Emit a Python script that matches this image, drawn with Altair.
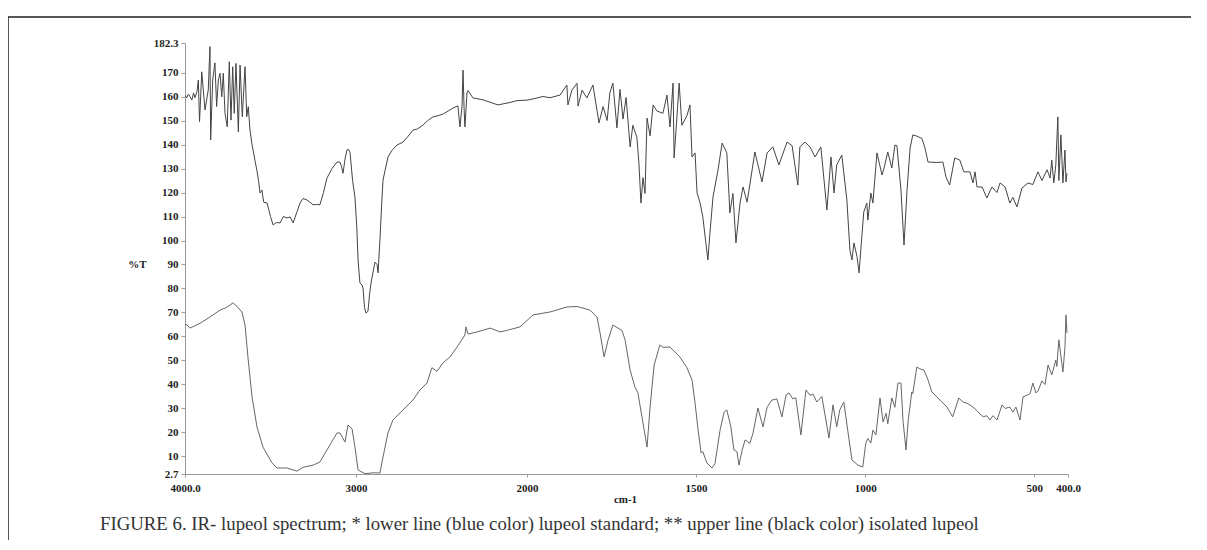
import altair as alt
import pandas as pd

# Upper line (isolated lupeol) : wavenumber (cm-1) and %T
upper_wn = [4000, 3990, 3980, 3971, 3960, 3950, 3942, 3930, 3922, 3915, 3902, 3883, 3864, 3854, 3850,
            3838, 3825, 3815, 3805, 3795, 3785, 3776, 3766, 3753, 3741, 3731, 3721, 3712, 3702, 3688,
            3678, 3665, 3649, 3639, 3630, 3620, 3608, 3602, 3590, 3579, 3570, 3561, 3550, 3540, 3520,
            3500, 3485, 3465, 3444, 3425, 3404, 3385, 3368, 3345, 3327, 3310, 3287, 3270, 3251, 3230,
            3211, 3190, 3170, 3140, 3111, 3094, 3085, 3076, 3064, 3053, 3045, 3035, 3020, 3006, 2995,
            2988, 2977, 2965, 2959, 2950, 2942, 2930, 2920, 2912, 2900, 2889, 2877, 2871, 2860, 2850,
            2842, 2813, 2790, 2760, 2725, 2700, 2667, 2640, 2608, 2580, 2550, 2520, 2491, 2460, 2433,
            2404, 2392, 2380, 2374, 2368, 2363, 2351, 2345, 2316, 2257, 2170, 2100, 2059, 2000, 1982,
            1953, 1932, 1902, 1882, 1879, 1867, 1852, 1849, 1837, 1823, 1805, 1787, 1775, 1763, 1755,
            1746, 1734, 1725, 1716, 1707, 1695, 1687, 1675, 1669, 1663, 1657, 1651, 1645, 1636, 1627,
            1616, 1598, 1586, 1577, 1568, 1565, 1556, 1550, 1542, 1527, 1518, 1512, 1503, 1497, 1488,
            1480, 1471, 1465, 1459, 1450, 1435, 1423, 1409, 1400, 1391, 1382, 1370, 1361, 1349, 1326,
            1305, 1290, 1273, 1255, 1231, 1216, 1199, 1193, 1178, 1163, 1148, 1131, 1113, 1101, 1092,
            1084, 1069, 1054, 1045, 1039, 1033, 1024, 1018, 1009, 1004, 995, 992, 983, 977, 965,
            950, 944, 933, 921, 912, 906, 894, 885, 876, 867, 859, 847, 832, 823, 814,
            788, 770, 761, 750, 735, 720, 708, 690, 681, 675, 669, 654, 640, 625, 610,
            601, 586, 572, 563, 551, 536, 518, 504, 489, 477, 462, 453, 448, 442, 436,
            430, 427, 421, 415, 409, 406, 403]
upper_t = [160.5, 159.5, 161, 160, 158.5, 161.5, 159.5, 162, 166.9, 149.5, 170.3, 154.4, 162.7, 180.8, 141.9,
           166.9, 174, 155.8, 166.9, 169.7, 159.9, 169.7, 153, 147.4, 174.5, 150.2, 172.4, 153, 173.8, 145.3,
           173.1, 151.6, 172.4, 151.6, 155.8, 146, 140, 137.7, 133, 129, 125, 119.8, 121, 116, 115.6,
           110, 106.5, 107.5, 107.3, 110, 109.4, 109.8, 107.3, 112, 115.6, 117.5, 116.9, 116, 114.9, 115,
           114.9, 120, 126, 130, 132.7, 132.7, 131, 128, 134, 137.7, 138, 136.8, 125, 118, 105,
           91.9, 82.3, 81.5, 80.2, 72, 69.8, 70.5, 78, 82.3, 87, 91, 90, 86.5, 100.2, 115,
           125.2, 134.8, 137.5, 139.8, 141, 143, 146, 146.5, 148.1, 150, 151.5, 152, 152.7, 154, 155.2,
           156.1, 147.3, 156, 171, 155, 147.3, 161.5, 162.5, 159.4, 158.6, 156.5, 157.5, 158.3, 158.5, 159,
           160, 159.5, 160.6, 164.8, 156.5, 162.7, 165.5, 156, 162.7, 159.4, 164.8, 149, 155.8, 150, 161.5,
           165.6, 146.9, 163, 150.6, 159.6, 139, 148, 143, 132.3, 115.6, 126.2, 119.6, 151, 143.6, 156.5,
           154, 153, 160.6, 147.3, 165.6, 134.4, 152.7, 165.6, 148, 152, 156.5, 134.8, 136.5, 119.8, 115.6,
           109.8, 99, 91.9, 103, 118.1, 129.4, 140.6, 136.5, 111.5, 119.6, 99, 115.6, 122.3, 116, 136.9,
           124.4, 136.5, 139, 131.5, 141, 139.5, 123.1, 139, 141, 139, 134.8, 139, 112.7, 134.8, 119.8,
           131.5, 135.6, 116.9, 96, 91.9, 99, 93.3, 86.5, 103, 111.9, 115.6, 108.5, 119.8, 115.6, 136.5,
           127.3, 130.2, 136.9, 130.2, 139.8, 139.5, 121, 98.1, 121, 138.5, 144, 143.5, 142.5, 138.5, 132.7,
           132.5, 132.7, 126.5, 123.1, 134.4, 133.5, 128.6, 128.6, 124, 128.6, 122.3, 122.3, 117.7, 122.3, 120,
           124, 122.3, 115.6, 118, 114, 121.9, 124, 123.3, 128.6, 125, 129.5, 126, 133.5, 124, 131.5,
           151.5, 125, 144, 124, 137.7, 124.4, 128]

# Lower line (lupeol standard)
lower_wn = [4000, 3988, 3971, 3912, 3854, 3795, 3760, 3737, 3720, 3696, 3667, 3649, 3632, 3608, 3579,
            3544, 3491, 3462, 3404, 3345, 3310, 3251, 3211, 3170, 3111, 3094, 3064, 3047, 3023, 3006,
            2988, 2947, 2901, 2860, 2842, 2813, 2784, 2725, 2667, 2626, 2585, 2556, 2526, 2491, 2450,
            2409, 2363, 2357, 2345, 2292, 2216, 2158, 2120, 2041, 1982, 1932, 1882, 1852, 1814, 1793,
            1784, 1772, 1760, 1746, 1719, 1710, 1695, 1681, 1672, 1657, 1645, 1636, 1624, 1607, 1598,
            1577, 1548, 1527, 1512, 1503, 1494, 1485, 1480, 1468, 1453, 1444, 1429, 1417, 1409, 1397,
            1388, 1379, 1373, 1364, 1355, 1341, 1332, 1317, 1302, 1290, 1276, 1261, 1246, 1234, 1225,
            1214, 1205, 1190, 1175, 1163, 1154, 1143, 1128, 1116, 1107, 1095, 1084, 1075, 1063, 1051,
            1039, 1021, 1007, 998, 992, 983, 977, 968, 956, 947, 938, 933, 921, 912, 903,
            894, 888, 879, 873, 862, 859, 847, 838, 826, 814, 803, 788, 773, 758, 741,
            723, 711, 696, 681, 669, 651, 640, 631, 622, 610, 595, 586, 572, 563, 554,
            542, 533, 521, 512, 504, 495, 489, 477, 468, 459, 448, 436, 433, 427, 415,
            409, 406, 403]
lower_t = [65, 64.8, 63.5, 65.5, 68.1, 71, 72, 73.1, 74, 72.5, 70.2, 64.8, 51.5, 34.8, 22.3,
           13.9, 7.3, 5.2, 5.2, 3.9, 5.5, 6.4, 7.7, 12.7, 19.8, 19.8, 16, 23.1, 21.5, 13.9,
           4.4, 2.8, 3.2, 3.1, 9.8, 19.8, 25.2, 29.4, 33.5, 37.7, 40.6, 47, 45.5, 49, 51.5,
           55.6, 60.6, 64, 61, 61.9, 63.5, 61.9, 62.5, 64, 69, 70.2, 72.3, 72.5, 71, 68.1,
           61.5, 51.5, 58.6, 64.8, 62.5, 58.6, 46, 39, 36.5, 24, 13.9, 30.6, 48.1, 56.5, 55.5,
           55.6, 51.5, 47, 41.9, 32.3, 21, 11.5, 12, 7.3, 5.2, 7, 21, 28.5, 29.4, 22.3,
           12.7, 12, 6.4, 12.5, 16.9, 15.5, 19.5, 30.2, 22.3, 30.5, 33.5, 34, 26.5, 35.6, 36.5,
           34, 34.5, 19, 37.7, 35.5, 36, 32.7, 35, 25.2, 17.7, 31.5, 22.3, 29.4, 32.7, 20.5,
           8.5, 6.4, 5.6, 15.6, 17.5, 15.6, 21, 19, 34.4, 24.4, 28, 23.6, 34.4, 30.5, 40.6,
           40.6, 25, 12.7, 24.5, 36.9, 36.2, 47.3, 46.5, 46, 41.9, 37, 34.8, 32.7, 30.6, 26.5,
           34.4, 32.7, 32, 30.6, 29, 26.5, 27, 25.2, 27, 25.2, 31.5, 30, 30.6, 28.5, 30.6,
           25.2, 34.8, 35.6, 36.2, 40.6, 36.5, 37.2, 41.5, 40, 48.1, 44, 50.2, 47.5, 58.6, 45.2,
           55.5, 69, 61.5]

x_ticks = [4000, 3000, 2000, 1500, 1000, 500, 400]
y_ticks = [2.7, 10, 20, 30, 40, 50, 60, 70, 80, 90, 100, 110, 120, 130, 140, 150, 160, 170, 182.3]
caption = ("FIGURE 6. IR- lupeol spectrum; * lower line (blue color) lupeol standard; "
           "** upper line (black color) isolated lupeol")

rows = []
for i, (w, t) in enumerate(zip(upper_wn, upper_t)):
    rows.append({"wn": w, "t": t, "series": "upper", "i": i})
for i, (w, t) in enumerate(zip(lower_wn, lower_t)):
    rows.append({"wn": w, "t": t, "series": "lower", "i": i})
df = pd.DataFrame(rows)

W, H = 883, 431
font = "Liberation Serif"

x_enc = alt.X(
    "wn:Q",
    scale=alt.Scale(domain=[4000, 2000, 400], range=[0, 342, W], zero=False, nice=False),
    axis=alt.Axis(
        values=x_ticks, title="cm-1", format="d",
        labelExpr="datum.value == 4000 ? '4000.0' : datum.value == 400 ? '400.0' : datum.label",
        grid=False, domainColor="#9a9a9a", tickColor="#9a9a9a", tickSize=3,
        labelFont=font, labelFontSize=11, labelFontWeight="bold", labelColor="#222",
        titleFont=font, titleFontSize=11, titleFontWeight="bold", titleColor="#222",
        labelPadding=5, titleX=440, titleY=25, titleBaseline="middle", labelFlush=False,
    ),
)
y_enc = alt.Y(
    "t:Q",
    scale=alt.Scale(domain=[2.7, 182.3], zero=False, nice=False),
    axis=alt.Axis(
        values=y_ticks, title="%T",
        labelExpr="datum.value == 182.3 ? '182.3' : datum.value == 2.7 ? '2.7' : format(datum.value, 'd')",
        grid=False, domainColor="#9a9a9a", tickColor="#9a9a9a", tickSize=4,
        labelFont=font, labelFontSize=11, labelFontWeight="bold", labelColor="#222",
        titleFont=font, titleFontSize=11, titleFontWeight="bold", titleColor="#222",
        titleAngle=0, titleX=-48, titleY=221, titleAlign="center", titleBaseline="middle",
        labelPadding=3,
    ),
)

lines = (
    alt.Chart(df)
    .mark_line(strokeWidth=1, clip=True)
    .encode(
        x=x_enc,
        y=y_enc,
        detail="series:N",
        order="i:Q",
        color=alt.Color("series:N", scale=alt.Scale(domain=["upper", "lower"], range=["#444444", "#666666"]), legend=None),
    )
)

one = alt.Data(values=[{"caption": caption}])

frame = (
    alt.Chart(one)
    .mark_rect(fill=None, stroke="#222", strokeWidth=1.5)
    .encode(
        x=alt.value(-177), x2=alt.value(1100),
        y=alt.value(-26), y2=alt.value(600),
    )
)

caption_text = (
    alt.Chart(one)
    .mark_text(align="left", baseline="middle", font=font, fontSize=18.8, color="#333")
    .encode(text="caption:N", x=alt.value(-85), y=alt.value(481))
)

chart = (
    alt.layer(frame, lines, caption_text)
    .properties(width=W, height=H)
    .configure_view(stroke=None)
    .properties(
        autosize=alt.AutoSizeParams(type="none"),
        padding={"left": 177, "top": 35, "right": 123, "bottom": 66},
    )
)

chart.save("out.html", embed_options={"renderer": "svg", "actions": False})
